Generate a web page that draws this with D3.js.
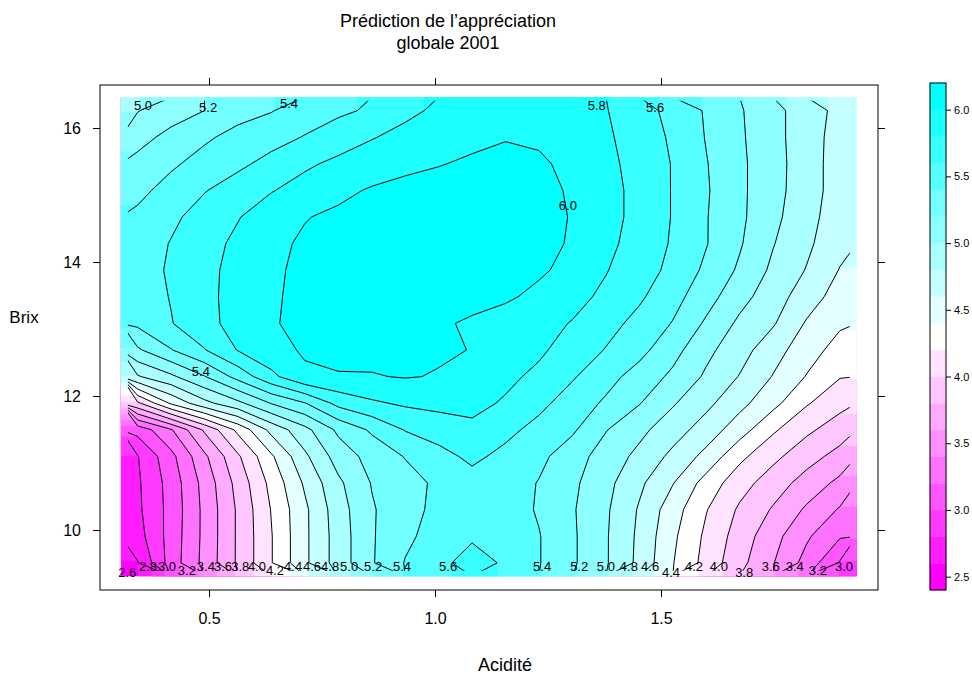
<!DOCTYPE html>
<html>
<head>
<meta charset="utf-8">
<script src="https://cdn.jsdelivr.net/npm/d3@7"></script>
<style>
  body { margin: 0; background: white; }
  text { font-family: "Liberation Sans", Arial, Helvetica, sans-serif; fill: #000; }
</style>
</head>
<body>
<svg id="chart" width="972" height="680"></svg>
<script>
"use strict";

// Grid of the prediction (Acidité in columns, Brix in rows, top row = highest Brix)
const acidite = [0.342, 0.416, 0.490, 0.564, 0.638, 0.712, 0.786, 0.860, 0.934, 1.008, 1.082,
                 1.156, 1.230, 1.304, 1.378, 1.452, 1.526, 1.600, 1.674, 1.748, 1.822, 1.896];
const brix = [16.26, 15.86, 15.47, 15.07, 14.67, 14.27, 13.88, 13.48, 13.08,
              12.68, 12.29, 11.89, 11.49, 11.09, 10.70, 10.30, 9.90, 9.51];
const appreciation = [
  [4.99, 5.12, 5.20, 5.33, 5.39, 5.50, 5.56, 5.63, 5.76, 5.83, 5.87, 5.89, 5.88, 5.85, 5.81, 5.68, 5.54, 5.38, 5.22, 5.06, 4.90, 4.74],
  [5.14, 5.25, 5.37, 5.46, 5.53, 5.61, 5.71, 5.79, 5.85, 5.89, 5.95, 5.99, 5.97, 5.91, 5.83, 5.71, 5.57, 5.39, 5.23, 5.06, 4.90, 4.71],
  [5.25, 5.37, 5.47, 5.56, 5.66, 5.77, 5.84, 5.89, 5.95, 5.99, 6.03, 6.05, 6.03, 5.95, 5.85, 5.73, 5.59, 5.41, 5.24, 5.07, 4.90, 4.70],
  [5.35, 5.47, 5.59, 5.69, 5.79, 5.87, 5.95, 6.02, 6.06, 6.08, 6.09, 6.08, 6.05, 5.98, 5.87, 5.74, 5.59, 5.42, 5.24, 5.07, 4.89, 4.71],
  [5.44, 5.56, 5.68, 5.79, 5.90, 5.99, 6.04, 6.08, 6.10, 6.11, 6.11, 6.10, 6.06, 5.99, 5.87, 5.74, 5.59, 5.41, 5.24, 5.05, 4.87, 4.69],
  [5.49, 5.61, 5.73, 5.84, 5.95, 6.03, 6.07, 6.10, 6.12, 6.13, 6.12, 6.10, 6.06, 5.98, 5.85, 5.72, 5.58, 5.41, 5.22, 5.01, 4.84, 4.66],
  [5.53, 5.62, 5.75, 5.86, 5.97, 6.04, 6.08, 6.11, 6.13, 6.13, 6.12, 6.09, 6.03, 5.94, 5.81, 5.69, 5.55, 5.36, 5.17, 4.96, 4.79, 4.59],
  [5.49, 5.61, 5.75, 5.87, 5.98, 6.04, 6.08, 6.10, 6.11, 6.10, 6.07, 6.03, 5.95, 5.86, 5.76, 5.63, 5.47, 5.28, 5.07, 4.89, 4.70, 4.51],
  [5.44, 5.59, 5.74, 5.87, 5.99, 6.03, 6.06, 6.07, 6.06, 6.03, 5.97, 5.91, 5.86, 5.79, 5.67, 5.54, 5.39, 5.17, 4.96, 4.82, 4.58, 4.43],
  [5.17, 5.39, 5.59, 5.81, 5.94, 6.02, 6.04, 6.05, 6.04, 6.02, 5.996, 5.91, 5.83, 5.72, 5.59, 5.46, 5.27, 5.05, 4.88, 4.68, 4.49, 4.32],
  [4.78, 4.96, 5.19, 5.47, 5.75, 5.97, 5.99, 5.99, 6.01, 5.99, 5.90, 5.84, 5.76, 5.62, 5.47, 5.32, 5.16, 4.97, 4.79, 4.59, 4.39, 4.21],
  [3.96, 4.43, 4.74, 4.95, 5.21, 5.39, 5.66, 5.77, 5.83, 5.86, 5.85, 5.78, 5.65, 5.51, 5.37, 5.21, 5.02, 4.85, 4.66, 4.46, 4.22, 4.06],
  [3.07, 3.38, 3.83, 4.25, 4.66, 4.94, 5.24, 5.43, 5.61, 5.68, 5.76, 5.65, 5.54, 5.43, 5.21, 5.05, 4.89, 4.71, 4.49, 4.23, 4.04, 3.90],
  [2.79, 3.14, 3.56, 3.97, 4.37, 4.76, 5.09, 5.27, 5.41, 5.54, 5.64, 5.55, 5.45, 5.29, 5.11, 4.95, 4.75, 4.54, 4.25, 4.05, 3.88, 3.73],
  [2.77, 3.08, 3.47, 3.87, 4.26, 4.63, 4.96, 5.21, 5.32, 5.44, 5.53, 5.50, 5.39, 5.24, 5.06, 4.84, 4.61, 4.32, 4.08, 3.90, 3.72, 3.55],
  [2.76, 3.07, 3.45, 3.83, 4.21, 4.56, 4.91, 5.18, 5.33, 5.45, 5.54, 5.50, 5.38, 5.22, 5.03, 4.78, 4.49, 4.21, 3.97, 3.78, 3.57, 3.38],
  [2.72, 3.08, 3.45, 3.83, 4.19, 4.56, 4.89, 5.18, 5.36, 5.48, 5.58, 5.52, 5.41, 5.23, 5.02, 4.76, 4.44, 4.16, 3.91, 3.67, 3.43, 3.22],
  [2.59, 3.09, 3.46, 3.83, 4.19, 4.56, 4.89, 5.18, 5.41, 5.56, 5.66, 5.58, 5.41, 5.23, 5.02, 4.75, 4.41, 4.13, 3.86, 3.61, 3.33, 2.98]
];

// colour cuts and contour levels
const cuts = [2.4, 2.6, 2.8, 3.0, 3.2, 3.4, 3.6, 3.8, 4.0, 4.2, 4.4, 4.6, 4.8, 5.0, 5.2, 5.4, 5.6, 5.8, 6.0, 6.2];
const niveaux = [2.6, 2.8, 3.0, 3.2, 3.4, 3.6, 3.8, 4.0, 4.2, 4.4, 4.6, 4.8, 5.0, 5.2, 5.4, 5.6, 5.8, 6.0];

// axis ticks
const xTicks = [0.5, 1.0, 1.5];
const yTicks = [10, 12, 14, 16];
const keyTicks = [2.5, 3.0, 3.5, 4.0, 4.5, 5.0, 5.5, 6.0];

// contour labels: level and where it sits (Acidité, Brix)
const labelNiveau = [2.6, 2.8, 3.0, 3.2, 3.4, 3.6, 3.8, 4.0, 4.2, 4.4, 4.6, 4.8, 5.0, 5.2, 5.4, 5.6,
                     5.4, 5.2, 5.0, 4.8, 4.6, 4.4, 4.2, 4.0, 3.8, 3.6, 3.4, 3.2, 3.0,
                     5.0, 5.2, 5.4, 5.8, 5.6, 6.0, 5.4];
const labelAcid = [0.319, 0.365, 0.407, 0.451, 0.493, 0.531, 0.569, 0.606, 0.646, 0.686, 0.728, 0.768, 0.810, 0.863, 0.927, 1.029,
                   1.237, 1.319, 1.378, 1.429, 1.476, 1.522, 1.573, 1.628, 1.684, 1.743, 1.796, 1.847, 1.905,
                   0.354, 0.498, 0.677, 1.358, 1.487, 1.294, 0.482];
const labelBrix = [9.36, 9.45, 9.45, 9.39, 9.45, 9.45, 9.45, 9.45, 9.39, 9.45, 9.45, 9.45, 9.45, 9.45, 9.45, 9.45,
                   9.45, 9.45, 9.45, 9.45, 9.45, 9.36, 9.45, 9.45, 9.36, 9.45, 9.45, 9.39, 9.45,
                   16.34, 16.30, 16.37, 16.34, 16.31, 14.84, 12.36];

const panel = {left: 100, right: 878, top: 85, bottom: 590};

const svg = d3.select("#chart");
svg.append("rect").attr("width", 972).attr("height", 680).attr("fill", "white");

const x_scale = d3.scaleLinear().domain([0.2588, 1.9801]).range([panel.left, panel.right]);
const y_scale = d3.scaleLinear().domain([9.1045, 16.6418]).range([panel.bottom, panel.top]);

const palette = d3.piecewise(d3.interpolateRgb, ["#ff00ff", "#ffffff", "#00ffff"]);
const band_colour = function (i) { return palette(i / (cuts.length - 2)); };

const nx = acidite.length, ny = brix.length;
const dA = (acidite[nx - 1] - acidite[0]) / (nx - 1);
const dB = (brix[0] - brix[ny - 1]) / (ny - 1);

// grid space -> pixels (sample i sits at grid coordinate i + 0.5)
function gx(g) { return x_scale(acidite[0] + (g - 0.5) * dA); }
function gy(g) { return y_scale(brix[0] - (g - 0.5) * dB); }

const x0 = gx(0), x1 = gx(nx), y0 = gy(0), y1 = gy(ny);

// For the colour bands the grid gets a one-cell border repeating the edge
// values, so the polygons do not get their corners cut at the data edge.
const padded = [];
for (let j = -1; j <= ny; j++) {
    const row = appreciation[Math.max(0, Math.min(ny - 1, j))];
    padded.push([row[0]].concat(row, [row[nx - 1]]));
}
const band_gen = d3.contours().size([nx + 2, ny + 2]);

function band_path(mp) {
    let d = "";
    mp.coordinates.forEach(function (poly) {
        poly.forEach(function (ring) {
            d += "M" + ring.map(function (p) {
                return gx(p[0] - 1).toFixed(2) + "," + gy(p[1] - 1).toFixed(2);
            }).join("L") + "Z";
        });
    });
    return d;
}

svg.append("clipPath").attr("id", "data_area")
    .append("rect")
    .attr("x", x0).attr("y", y0)
    .attr("width", x1 - x0).attr("height", y1 - y0);

const fill_g = svg.append("g").attr("clip-path", "url(#data_area)");
const padded_values = padded.flat();
cuts.slice(0, -1).forEach(function (t, i) {
    fill_g.append("path")
        .attr("d", band_path(band_gen.contour(padded_values, t)))
        .attr("fill", band_colour(i))
        .attr("stroke", band_colour(i))
        .attr("stroke-width", 0.6);
});

// Contour lines from the plain grid: the parts of the rings lying on the
// edge of the grid are dropped, what is left are the open lines.
const line_gen = d3.contours().size([nx, ny]);
const values = appreciation.flat();
function on_edge(p) {
    return p[0] <= 1e-9 || p[0] >= nx - 1e-9 || p[1] <= 1e-9 || p[1] >= ny - 1e-9;
}
function open_lines(mp) {
    const lines = [];
    mp.coordinates.forEach(function (poly) {
        poly.forEach(function (ring) {
            let current = null;
            for (let k = 0; k < ring.length - 1; k++) {
                const a = ring[k], b = ring[k + 1];
                if (on_edge(a) && on_edge(b)) {
                    if (current) { lines.push(current); current = null; }
                    continue;
                }
                if (!current) current = [a];
                current.push(b);
            }
            if (current) lines.push(current);
        });
    });
    return lines;
}
const contour_line = d3.line()
    .x(function (p) { return gx(p[0]); })
    .y(function (p) { return gy(p[1]); });

// lines stop a little inside the coloured area, as in lattice
svg.append("clipPath").attr("id", "inner")
    .append("rect")
    .attr("x", x0 + 7).attr("y", y0 + 3.5)
    .attr("width", x1 - x0 - 14).attr("height", y1 - y0 - 9);

const line_g = svg.append("g").attr("clip-path", "url(#inner)");
niveaux.forEach(function (t) {
    open_lines(line_gen.contour(values, t)).forEach(function (pts) {
        line_g.append("path")
            .attr("d", contour_line(pts))
            .attr("fill", "none")
            .attr("stroke", "#000")
            .attr("stroke-width", 1);
    });
});

// contour labels
labelNiveau.forEach(function (lv, i) {
    svg.append("text")
        .attr("x", x_scale(labelAcid[i]))
        .attr("y", y_scale(labelBrix[i]))
        .attr("text-anchor", "middle")
        .attr("dominant-baseline", "central")
        .style("font-size", "13px")
        .text(lv.toFixed(1));
});

// panel box
svg.append("rect")
    .attr("x", panel.left).attr("y", panel.top)
    .attr("width", panel.right - panel.left).attr("height", panel.bottom - panel.top)
    .attr("fill", "none").attr("stroke", "#000").attr("stroke-width", 1);

// axes
const fmt = d3.format(".1f");
function style_axis(g) {
    g.select(".domain").remove();
    g.selectAll("line").attr("stroke", "#000");
    g.selectAll("text").style("font-size", "16px").attr("fill", "#000");
}
svg.append("g").attr("transform", "translate(0," + panel.bottom + ")")
    .call(d3.axisBottom(x_scale).tickValues(xTicks).tickFormat(fmt).tickSize(7).tickPadding(16))
    .call(style_axis);
svg.append("g").attr("transform", "translate(0," + panel.top + ")")
    .call(d3.axisTop(x_scale).tickValues(xTicks).tickFormat("").tickSize(7))
    .call(style_axis);
svg.append("g").attr("transform", "translate(" + panel.left + ",0)")
    .call(d3.axisLeft(y_scale).tickValues(yTicks).tickSize(7).tickPadding(12))
    .call(style_axis);
svg.append("g").attr("transform", "translate(" + panel.right + ",0)")
    .call(d3.axisRight(y_scale).tickValues(yTicks).tickFormat("").tickSize(7))
    .call(style_axis);

// colour key
const key_scale = d3.scaleLinear().domain([cuts[0], cuts[cuts.length - 1]]).range([590, 83]);
const key = {x: 930, w: 16};
const key_g = svg.append("g");
cuts.slice(0, -1).forEach(function (t, i) {
    key_g.append("rect")
        .attr("x", key.x).attr("width", key.w)
        .attr("y", key_scale(cuts[i + 1])).attr("height", key_scale(t) - key_scale(cuts[i + 1]))
        .attr("fill", band_colour(i))
        .attr("stroke", band_colour(i)).attr("stroke-width", 0.5);
});
key_g.append("rect")
    .attr("x", key.x).attr("y", key_scale(cuts[cuts.length - 1]))
    .attr("width", key.w).attr("height", key_scale(cuts[0]) - key_scale(cuts[cuts.length - 1]))
    .attr("fill", "none").attr("stroke", "#000");
svg.append("g").attr("transform", "translate(" + (key.x + key.w) + ",0)")
    .call(d3.axisRight(key_scale).tickValues(keyTicks).tickFormat(fmt).tickSize(5).tickPadding(3))
    .call(function (g) {
        g.select(".domain").remove();
        g.selectAll("text").style("font-size", "11px").attr("fill", "#000");
    });

// titles
svg.append("text").attr("x", 448).attr("y", 27).attr("text-anchor", "middle")
    .style("font-size", "18px").text("Prédiction de l’appréciation");
svg.append("text").attr("x", 448).attr("y", 49).attr("text-anchor", "middle")
    .style("font-size", "18px").text("globale 2001");
svg.append("text").attr("x", 505).attr("y", 671).attr("text-anchor", "middle")
    .style("font-size", "18px").text("Acidité");
svg.append("text").attr("x", 24).attr("y", 323).attr("text-anchor", "middle")
    .style("font-size", "17px").text("Brix");
</script>
</body>
</html>
